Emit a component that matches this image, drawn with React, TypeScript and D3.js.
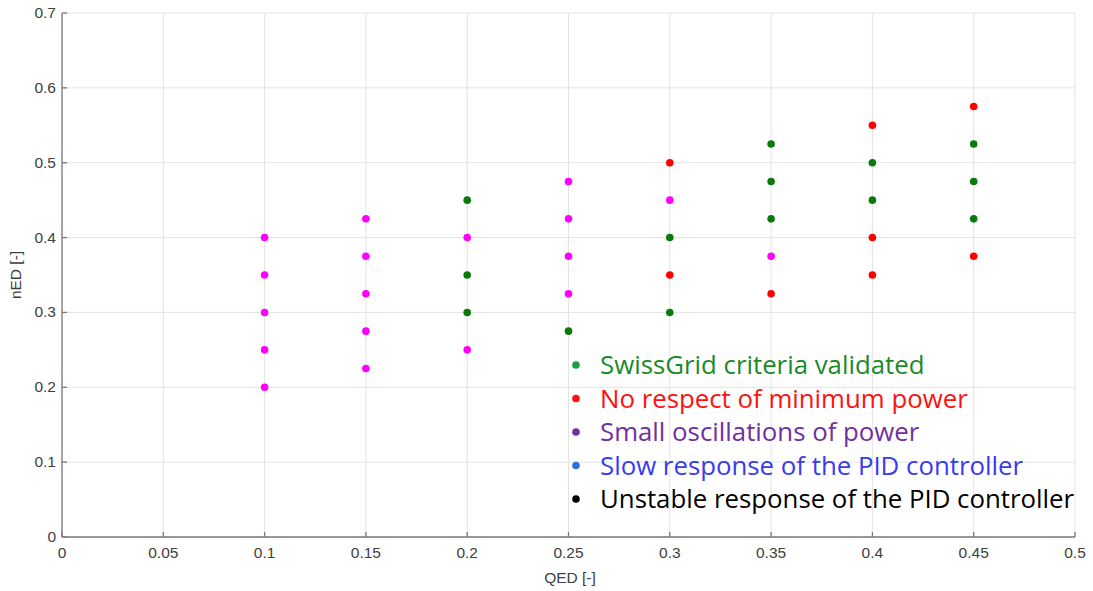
import React from "react";
import * as d3 from "d3";

const xTicks = [0, 0.05, 0.1, 0.15, 0.2, 0.25, 0.3, 0.35, 0.4, 0.45, 0.5];
const xTickLabels = ["0", "0.05", "0.1", "0.15", "0.2", "0.25", "0.3", "0.35", "0.4", "0.45", "0.5"];
const yTicks = [0, 0.1, 0.2, 0.3, 0.4, 0.5, 0.6, 0.7];
const yTickLabels = ["0", "0.1", "0.2", "0.3", "0.4", "0.5", "0.6", "0.7"];

// status: g = validated, r = no min power, m = magenta
const qed = [
  0.1, 0.1, 0.1, 0.1, 0.1,
  0.15, 0.15, 0.15, 0.15, 0.15,
  0.2, 0.2, 0.2, 0.2, 0.2,
  0.25, 0.25, 0.25, 0.25, 0.25,
  0.3, 0.3, 0.3, 0.3, 0.3,
  0.35, 0.35, 0.35, 0.35, 0.35,
  0.4, 0.4, 0.4, 0.4, 0.4,
  0.45, 0.45, 0.45, 0.45, 0.45,
];
const ned = [
  0.4, 0.35, 0.3, 0.25, 0.2,
  0.425, 0.375, 0.325, 0.275, 0.225,
  0.45, 0.4, 0.35, 0.3, 0.25,
  0.475, 0.425, 0.375, 0.325, 0.275,
  0.5, 0.45, 0.4, 0.35, 0.3,
  0.525, 0.475, 0.425, 0.375, 0.325,
  0.55, 0.5, 0.45, 0.4, 0.35,
  0.575, 0.525, 0.475, 0.425, 0.375,
];
const status = [
  "m", "m", "m", "m", "m",
  "m", "m", "m", "m", "m",
  "g", "m", "g", "g", "m",
  "m", "m", "m", "m", "g",
  "r", "m", "g", "r", "g",
  "g", "g", "g", "m", "r",
  "r", "g", "g", "r", "r",
  "r", "g", "g", "g", "r",
];
const statusColors: Record<string, string> = { g: "#0a7a0a", r: "#ff0000", m: "#ff00ff" };

const legendLabels = [
  "SwissGrid criteria validated",
  "No respect of minimum power",
  "Small oscillations of power",
  "Slow response of the PID controller",
  "Unstable response of the PID controller",
];
const legendTextColors = ["#1a8a2a", "#ff1010", "#7030a0", "#3a3aef", "#000000"];
const legendDotColors = ["#1aa040", "#ff1010", "#7030a0", "#2f6fe0", "#000000"];

export default function App() {
  const W = 1093, H = 591;
  const x = d3.scaleLinear().domain([0, 0.5]).range([62, 1075]);
  const y = d3.scaleLinear().domain([0, 0.7]).range([537, 13]);
  const axisFont = "Liberation Sans, Arial, sans-serif";
  const gridColor = "#e3e3e3";
  const axisColor = "#7a7a7a";
  const textColor = "#404040";
  return (
    <svg width={W} height={H} style={{ position: "absolute", left: 0, top: 0, background: "#fff" }}>
      {xTicks.map((t, i) => (
        <line key={"gx" + i} x1={x(t)} x2={x(t)} y1={y(0.7)} y2={y(0)} stroke={gridColor} strokeWidth={1} />
      ))}
      {yTicks.map((t, i) => (
        <line key={"gy" + i} x1={x(0)} x2={x(0.5)} y1={y(t)} y2={y(t)} stroke={gridColor} strokeWidth={1} />
      ))}
      <line x1={x(0)} x2={x(0)} y1={y(0.7)} y2={y(0)} stroke={axisColor} strokeWidth={1.3} />
      <line x1={x(0)} x2={x(0.5)} y1={y(0)} y2={y(0)} stroke={axisColor} strokeWidth={1.3} />
      {xTicks.map((t, i) => (
        <g key={"tx" + i}>
          <line x1={x(t)} x2={x(t)} y1={y(0)} y2={y(0) - 5} stroke={axisColor} strokeWidth={1.3} />
          <text x={x(t)} y={y(0) + 21} textAnchor="middle" fontFamily={axisFont} fontSize={15.5} fill={textColor}>
            {xTickLabels[i]}
          </text>
        </g>
      ))}
      {yTicks.map((t, i) => (
        <g key={"ty" + i}>
          <line x1={x(0)} x2={x(0) + 5} y1={y(t)} y2={y(t)} stroke={axisColor} strokeWidth={1.3} />
          <text x={x(0) - 6} y={y(t) + 5} textAnchor="end" fontFamily={axisFont} fontSize={15.5} fill={textColor}>
            {yTickLabels[i]}
          </text>
        </g>
      ))}
      <text x={570} y={583} textAnchor="middle" fontFamily={axisFont} fontSize={15.5} fill={textColor}>QED [-]</text>
      <text transform="translate(21,275) rotate(-90)" textAnchor="middle" fontFamily={axisFont} fontSize={15.5} fill={textColor}>nED [-]</text>
      {qed.map((q, i) => (
        <circle key={"p" + i} cx={x(q)} cy={y(ned[i])} r={3.8} fill={statusColors[status[i]]} />
      ))}
      {legendLabels.map((l, i) => (
        <g key={"l" + i}>
          <circle cx={576} cy={365 + i * 33.5} r={3.8} fill={legendDotColors[i]} />
          <text x={600} y={374 + i * 33.5} fontFamily="'Open Sans', Lato, sans-serif" fontSize={25.8} fill={legendTextColors[i]}>
            {l}
          </text>
        </g>
      ))}
    </svg>
  );
}
